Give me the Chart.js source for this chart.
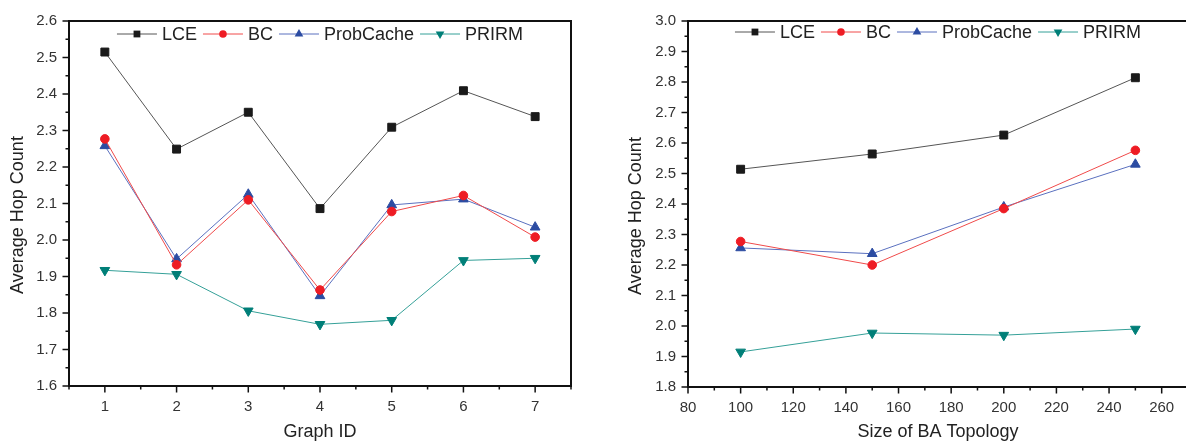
<!DOCTYPE html>
<html>
<head>
<meta charset="utf-8">
<script src="https://cdn.jsdelivr.net/npm/chart.js@4.4.1/dist/chart.umd.min.js"></script>
<style>
  html, body { margin:0; padding:0; background:#fff; overflow:hidden; width:1186px; height:443px; }
  #w1 { position:absolute; left:0; top:0; width:600px; height:443px; }
  #w2 { position:absolute; left:600px; top:0; width:600px; height:443px; }
</style>
</head>
<body>
<div id="w1"><canvas id="c1" width="600" height="443"></canvas></div>
<div id="w2"><canvas id="c2" width="600" height="443"></canvas></div>
<script>
// ---------- Data ----------
const seriesNames = ['LCE', 'BC', 'ProbCache', 'PRIRM'];

// Left chart: Graph ID
const graphIds = [1, 2, 3, 4, 5, 6, 7];
const leftLCE       = [2.515, 2.249, 2.350, 2.086, 2.309, 2.409, 2.338];
const leftBC        = [2.277, 1.932, 2.110, 1.863, 2.078, 2.122, 2.008];
const leftProbCache = [2.258, 1.948, 2.125, 1.847, 2.096, 2.112, 2.035];
const leftPRIRM     = [1.917, 1.906, 1.806, 1.769, 1.780, 1.944, 1.950];

// Right chart: Size of BA Topology
const baSizes = [100, 150, 200, 250];
const rightLCE       = [2.514, 2.564, 2.626, 2.814];
const rightBC        = [2.277, 2.200, 2.385, 2.576];
const rightProbCache = [2.256, 2.237, 2.390, 2.530];
const rightPRIRM     = [1.915, 1.977, 1.970, 1.990];

// Axis tick labels
const leftXTickLabels  = ['1','2','3','4','5','6','7'];
const leftYTickLabels  = ['1.6','1.7','1.8','1.9','2.0','2.1','2.2','2.3','2.4','2.5','2.6'];
const rightXTickLabels = ['80','100','120','140','160','180','200','220','240','260'];
const rightYTickLabels = ['1.8','1.9','2.0','2.1','2.2','2.3','2.4','2.5','2.6','2.7','2.8','2.9','3.0'];

// ---------- Styles ----------
const FONT = '"Liberation Sans", Arial, Helvetica, sans-serif';
const styles = [
  { line:'#555555', fill:'#1a1a1a', pointStyle:'rect',     radius:5.6, rotation:0,   lr:4.8 },
  { line:'#f04a4a', fill:'#ee1c24', pointStyle:'circle',   radius:4.3, rotation:0,   lr:3.8 },
  { line:'#5a70bf', fill:'#2c4ca2', pointStyle:'triangle', radius:5.6, rotation:0,   lr:5.0 },
  { line:'#35a098', fill:'#007f78', pointStyle:'triangle', radius:5.6, rotation:180, lr:5.0 }
];

function makeDatasets(xs, arrays) {
  return arrays.map((arr, i) => ({
    label: seriesNames[i],
    data: xs.map((x, j) => ({ x: x, y: arr[j] })),
    borderColor: styles[i].line,
    borderWidth: 1,
    backgroundColor: styles[i].fill,
    pointBackgroundColor: styles[i].fill,
    pointBorderColor: styles[i].fill,
    pointBorderWidth: 1,
    pointStyle: styles[i].pointStyle,
    pointRadius: styles[i].radius,
    pointHoverRadius: styles[i].radius,
    pointRotation: styles[i].rotation,
    tension: 0,
    fill: false
  }));
}

function drawMarker(ctx, st, x, y, r) {
  ctx.beginPath();
  if (st.pointStyle === 'rect') {
    const s = r * Math.SQRT1_2;
    ctx.rect(x - s, y - s, 2 * s, 2 * s);
  } else if (st.pointStyle === 'circle') {
    ctx.arc(x, y, r, 0, Math.PI * 2);
  } else {
    let rad = st.rotation * Math.PI / 180;
    for (let k = 0; k < 3; k++) {
      const px = x + Math.sin(rad) * r, py = y - Math.cos(rad) * r;
      if (k === 0) ctx.moveTo(px, py); else ctx.lineTo(px, py);
      rad += 2 * Math.PI / 3;
    }
    ctx.closePath();
  }
  ctx.fillStyle = st.fill;
  ctx.fill();
}

const decorPlugin = {
  id: 'decor',
  afterDraw(chart, args, opts) {
    const { ctx, chartArea: a, scales } = chart;
    const xs = scales.x, ys = scales.y;
    ctx.save();
    // frame
    ctx.strokeStyle = '#111';
    ctx.lineWidth = 2;
    ctx.strokeRect(a.left, a.top, a.right - a.left, a.bottom - a.top);
    // outward ticks
    ctx.lineWidth = 1.5;
    ctx.beginPath();
    xs.ticks.forEach(t => {
      const px = xs.getPixelForValue(t.value);
      const len = t.label !== '' ? 6.5 : 3.5;
      ctx.moveTo(px, a.bottom);
      ctx.lineTo(px, a.bottom + len);
    });
    ys.ticks.forEach(t => {
      const py = ys.getPixelForValue(t.value);
      const len = t.label !== '' ? 6.5 : 3.5;
      ctx.moveTo(a.left, py);
      ctx.lineTo(a.left - len, py);
    });
    ctx.stroke();
    // y title
    ctx.fillStyle = '#222';
    ctx.font = '18px ' + FONT;
    ctx.textAlign = 'center';
    ctx.textBaseline = 'middle';
    ctx.save();
    ctx.translate(opts.yTitleX, (a.top + a.bottom) / 2 + opts.yTitleShift);
    ctx.rotate(-Math.PI / 2);
    ctx.fillText(opts.yTitle, 0, 0);
    ctx.restore();
    // legend
    const ds = chart.data.datasets;
    ctx.font = '18px ' + FONT;
    const lineW = 40, gapText = 5, gapItem = 6;
    const widths = ds.map(d => ctx.measureText(d.label).width);
    let total = 0;
    widths.forEach((w, i) => { total += lineW + gapText + w + (i < ds.length - 1 ? gapItem : 0); });
    let sx = (a.left + a.right) / 2 - total / 2;
    const ly = a.top + opts.legendDy;
    ds.forEach((d, i) => {
      ctx.strokeStyle = styles[i].line;
      ctx.lineWidth = 1;
      ctx.beginPath();
      ctx.moveTo(sx, ly);
      ctx.lineTo(sx + lineW, ly);
      ctx.stroke();
      drawMarker(ctx, styles[i], sx + lineW / 2, ly, styles[i].lr);
      ctx.fillStyle = '#222';
      ctx.textAlign = 'left';
      ctx.textBaseline = 'middle';
      ctx.fillText(d.label, sx + lineW + gapText, ly + 1);
      sx += lineW + gapText + widths[i] + gapItem;
    });
    ctx.restore();
  }
};

function labelIn(list, v) {
  const s1 = v.toFixed(1), s0 = String(Math.round(v));
  if (Math.abs(v - Math.round(v)) < 1e-6 && list.includes(s0)) return s0;
  if (Math.abs(v * 10 - Math.round(v * 10)) < 1e-6 && list.includes(s1)) return s1;
  return '';
}

function makeChart(canvasId, cfg) {
  return new Chart(document.getElementById(canvasId), {
    type: 'line',
    data: { datasets: cfg.datasets },
    plugins: [decorPlugin],
    options: {
      responsive: false,
      animation: false,
      events: [],
      layout: { padding: cfg.padding },
      plugins: {
        legend: { display: false },
        tooltip: { enabled: false },
        decor: cfg.decor
      },
      scales: {
        x: {
          type: 'linear',
          min: cfg.xMin, max: cfg.xMax,
          grid: { display: false, drawTicks: false },
          border: { display: false },
          ticks: {
            stepSize: cfg.xStep,
            autoSkip: false,
            maxRotation: 0,
            padding: 12,
            color: '#333',
            font: { family: FONT, size: 15 },
            callback: v => labelIn(cfg.xLabels, v)
          },
          title: {
            display: true, text: cfg.xTitle, color: '#222',
            font: { family: FONT, size: 18 },
            padding: { top: 0, bottom: 0 }
          },
          afterFit: s => { s.height = cfg.xAxisH; }
        },
        y: {
          type: 'linear',
          min: cfg.yMin, max: cfg.yMax,
          grid: { display: false, drawTicks: false },
          border: { display: false },
          ticks: {
            stepSize: 0.05,
            autoSkip: false,
            padding: 12,
            color: '#333',
            font: { family: FONT, size: 15 },
            callback: v => labelIn(cfg.yLabels, v)
          },
          title: { display: false },
          afterFit: s => { s.width = cfg.yAxisW; }
        }
      }
    }
  });
}

makeChart('c1', {
  datasets: makeDatasets(graphIds, [leftLCE, leftBC, leftProbCache, leftPRIRM]),
  padding: { left: 0, right: 29, top: 19, bottom: 0 },
  xMin: 0.5, xMax: 7.5, xStep: 0.5, xLabels: leftXTickLabels,
  yMin: 1.6, yMax: 2.6, yLabels: leftYTickLabels,
  xTitle: 'Graph ID', xAxisH: 57, yAxisW: 69,
  decor: { yTitle: 'Average Hop Count', yTitleX: 18.5, yTitleShift: 11.5, legendDy: 13 }
});

makeChart('c2', {
  datasets: makeDatasets(baSizes, [rightLCE, rightBC, rightProbCache, rightPRIRM]),
  padding: { left: 0, right: 12, top: 21, bottom: 0 },
  xMin: 80, xMax: 270, xStep: 10, xLabels: rightXTickLabels,
  yMin: 1.8, yMax: 3.0, yLabels: rightYTickLabels,
  xTitle: 'Size of BA Topology', xAxisH: 56, yAxisW: 88,
  decor: { yTitle: 'Average Hop Count', yTitleX: 36.5, yTitleShift: 12, legendDy: 11 }
});
</script>
</body>
</html>
